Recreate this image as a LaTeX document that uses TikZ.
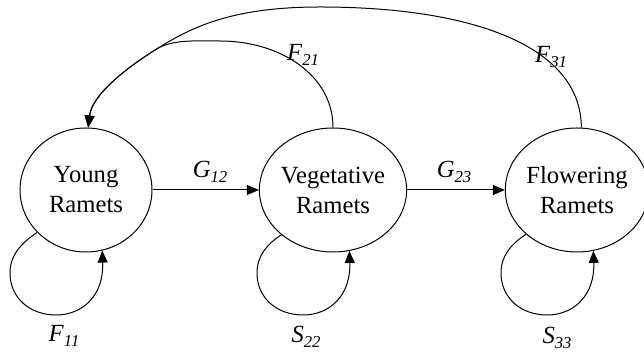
\documentclass[tikz,border=0pt]{standalone}
\usepackage{fontspec}
\setmainfont{Liberation Serif}
\usetikzlibrary{arrows.meta,shapes.geometric,calc}
\newcommand\lab[2]{\textit{#1}\raisebox{-0.4ex}{\fontsize{12.5}{12.5}\selectfont\textit{#2}}}
\begin{document}
\begin{tikzpicture}[x=0.75pt,y=0.75pt,
  every path/.style={line width=0.75pt},
  stage/.style={draw,ellipse,minimum width=99pt,minimum height=93pt,inner sep=0pt,align=center,
    font=\fontsize{18.5}{22.5}\selectfont},
  arr/.style={-{Triangle[length=9pt,width=7.5pt]}},
  lbl/.style={font=\fontsize{18.5}{20}\selectfont,inner sep=0pt}]
\useasboundingbox (0,0) rectangle (644,356);
\node[stage] (Y) at (86,166) {Young\\Ramets};
\node[stage] (V) at (333,166) {Vegetative\\Ramets};
\node[stage] (Fl) at (577,166) {Flowering\\Ramets};
\draw[arr] (Y.east) -- (V.west);
\draw[arr] (V.east) -- (Fl.west);
\node[lbl] (g12) at (210,184) {\lab{G}{12}};
\node[lbl] (g23) at (454,184) {\lab{G}{23}};
\draw[arr] (Fl.86) .. controls (581,311) and (470,349) .. (320,349)
  .. controls (230,349) and (190,328) .. (155,306)
  .. controls (125,287) and (92,261) .. (Y.88);
\draw[arr] (V.90) .. controls (333,281) and (280,315) .. (220,315)
  .. controls (195,315) and (172,317) .. (155,306)
  .. controls (125,287) and (92,261) .. (Y.88);
\node[lbl] (f21) at (303,301) {\lab{F}{21}};
\node[lbl] (f31) at (551,299) {\lab{F}{31}};
\foreach \n in {Y,V,Fl}{
  \begin{scope}[shift={(\n)}]
  \draw[arr] (\n.221) .. controls (-66,-54) and (-76,-66) .. (-76,-83)
    .. controls (-76,-108) and (-56,-125) .. (-30,-125)
    .. controls (-3,-125) and (18,-105) .. (\n.285);
  \end{scope}
}
\node[lbl] (f11) at (64,20) {\lab{F}{11}};
\node[lbl] (s22) at (306,19) {\lab{S}{22}};
\node[lbl] (s33) at (557,18) {\lab{S}{33}};
\end{tikzpicture}
\end{document}
